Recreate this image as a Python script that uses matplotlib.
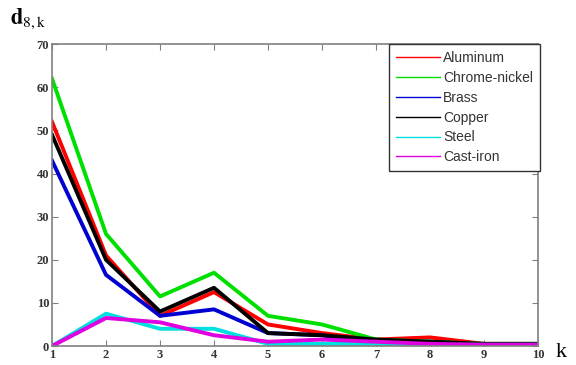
import numpy as np
import matplotlib.pyplot as plt

# harmonic index and d_{8,k} values per material
k = [1, 2, 3, 4, 5, 6, 7, 8, 9, 10]
aluminum = [52, 21, 7, 12.5, 5, 3, 1.5, 2, 0.5, 0.5]
chrome_nickel = [62, 26, 11.5, 17, 7, 5, 1.5, 1, 0.5, 0.5]
brass = [43, 16.5, 7, 8.5, 3, 2.5, 0.5, 1, 0.3, 0.3]
copper = [49, 20, 8, 13.5, 3, 2.5, 1.5, 1, 0.5, 0.5]
steel = [0, 7.5, 4, 4, 0.5, 0.5, 0.5, 0.3, 0.3, 0.3]
cast_iron = [0, 6.5, 5.5, 2.5, 1, 1.5, 1, 0.5, 0.3, 0.3]

names = ['Aluminum', 'Chrome-nickel', 'Brass', 'Copper', 'Steel', 'Cast-iron']
series = [aluminum, chrome_nickel, brass, copper, steel, cast_iron]
colors = ['#ff0000', '#00e000', '#0000d0', '#000000', '#00e0e0', '#e000e0']

fig = plt.figure(figsize=(5.76, 3.65), dpi=100)
ax = fig.add_axes([0.0903, 0.052, 0.8437, 0.827])

for vals, name, c in zip(series, names, colors):
    ax.plot(k, vals, color=c, lw=2.8, label=name, solid_joinstyle='round')

ax.set_xlim(1, 10)
ax.set_ylim(0, 70)
ax.set_xticks(k)
ax.set_yticks(np.arange(0, 71, 10))
for s in ax.spines.values():
    s.set_color('#808080')
    s.set_linewidth(1.2)
ax.tick_params(direction='in', length=4, color='#808080', top=True, right=True,
               pad=2, labelsize=9)
for lab in ax.get_xticklabels() + ax.get_yticklabels():
    lab.set_fontfamily('Liberation Serif')
    lab.set_fontweight('bold')
    lab.set_color('#333333')

leg = ax.legend(loc='upper right', bbox_to_anchor=(1.004, 1.0),
                prop={'family': 'Liberation Sans', 'size': 10},
                fancybox=False, framealpha=1, edgecolor='#333333',
                handlelength=3.2, labelspacing=0.42, borderpad=0.5,
                handletextpad=0.2, borderaxespad=0)
leg.get_frame().set_linewidth(1.0)
for line in leg.get_lines():
    line.set_linewidth(1.0)
for t in leg.get_texts():
    t.set_color('#333333')

fig.text(0.017, 0.935, r'$\mathbf{d}_{8,\mathrm{k}}$', fontsize=16,
         family='serif', math_fontfamily='stix')
fig.text(0.965, 0.022, 'k', fontsize=16, family='Liberation Serif')

fig.savefig('out.png', dpi=100)
